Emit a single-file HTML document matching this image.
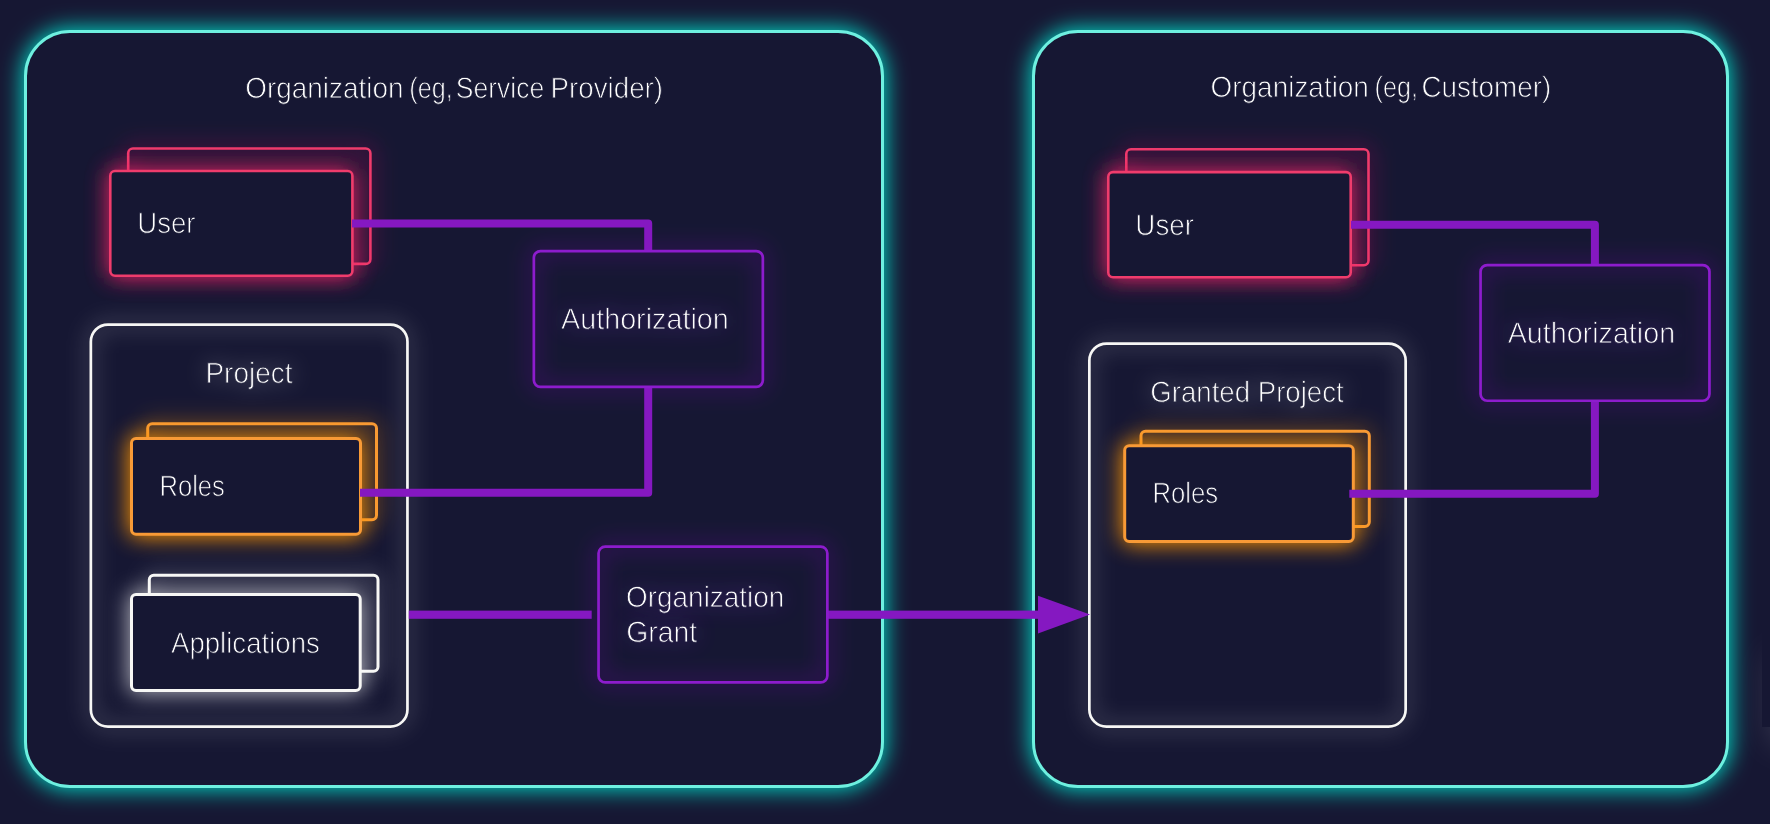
<!DOCTYPE html>
<html lang="en"><head><meta charset="utf-8"><title>Organization grant diagram</title>
<style>
html,body{margin:0;padding:0;background:#161733;}
body{width:1770px;height:824px;overflow:hidden;}
svg{display:block;position:absolute;left:0;top:0;}
text{font-family:"Liberation Sans",sans-serif;font-size:29.5px;text-rendering:geometricPrecision;}
</style></head><body>
<svg width="1770" height="824" viewBox="0 0 1770 824">
<defs>
<filter id="g" x="0" y="0" width="1770" height="824" filterUnits="userSpaceOnUse"><feGaussianBlur stdDeviation="11"/></filter>
<filter id="g2" x="0" y="0" width="1770" height="824" filterUnits="userSpaceOnUse"><feGaussianBlur stdDeviation="17"/></filter>
<filter id="tb" x="0" y="0" width="1770" height="824" filterUnits="userSpaceOnUse"><feGaussianBlur stdDeviation="11"/></filter>
<linearGradient id="edge" x1="0" x2="1" y1="0" y2="0"><stop offset="0" stop-color="#ffffff" stop-opacity="0"/><stop offset="1" stop-color="#c8b8ff" stop-opacity="0.045"/></linearGradient>
<mask id="mt0a" maskUnits="userSpaceOnUse" x="0" y="0" width="1770" height="824"><text x="245.30" y="97.75" textLength="158.21" lengthAdjust="spacingAndGlyphs" fill="#fff" stroke="#000" stroke-width="0.9">Organization</text></mask>
<mask id="mt0b" maskUnits="userSpaceOnUse" x="0" y="0" width="1770" height="824"><text x="409.35" y="97.75" textLength="43.39" lengthAdjust="spacingAndGlyphs" fill="#fff" stroke="#000" stroke-width="0.9">(eg,</text></mask>
<mask id="mt0c" maskUnits="userSpaceOnUse" x="0" y="0" width="1770" height="824"><text x="455.82" y="97.75" textLength="88.38" lengthAdjust="spacingAndGlyphs" fill="#fff" stroke="#000" stroke-width="0.9">Service</text></mask>
<mask id="mt0d" maskUnits="userSpaceOnUse" x="0" y="0" width="1770" height="824"><text x="550.61" y="97.75" textLength="112.46" lengthAdjust="spacingAndGlyphs" fill="#fff" stroke="#000" stroke-width="0.9">Provider)</text></mask>
<mask id="mt1a" maskUnits="userSpaceOnUse" x="0" y="0" width="1770" height="824"><text x="1210.59" y="96.65" textLength="158.32" lengthAdjust="spacingAndGlyphs" fill="#fff" stroke="#000" stroke-width="0.9">Organization</text></mask>
<mask id="mt1b" maskUnits="userSpaceOnUse" x="0" y="0" width="1770" height="824"><text x="1374.55" y="96.65" textLength="43.36" lengthAdjust="spacingAndGlyphs" fill="#fff" stroke="#000" stroke-width="0.9">(eg,</text></mask>
<mask id="mt1c" maskUnits="userSpaceOnUse" x="0" y="0" width="1770" height="824"><text x="1421.38" y="96.65" textLength="129.88" lengthAdjust="spacingAndGlyphs" fill="#fff" stroke="#000" stroke-width="0.9">Customer)</text></mask>
<mask id="mt2" maskUnits="userSpaceOnUse" x="0" y="0" width="1770" height="824"><text x="137.37" y="232.85" textLength="58.19" lengthAdjust="spacingAndGlyphs" fill="#fff" stroke="#000" stroke-width="0.9">User</text></mask>
<mask id="mt3" maskUnits="userSpaceOnUse" x="0" y="0" width="1770" height="824"><text x="1135.36" y="234.55" textLength="58.56" lengthAdjust="spacingAndGlyphs" fill="#fff" stroke="#000" stroke-width="0.9">User</text></mask>
<mask id="mt4" maskUnits="userSpaceOnUse" x="0" y="0" width="1770" height="824"><text x="561.05" y="328.85" textLength="167.70" lengthAdjust="spacingAndGlyphs" fill="#fff" stroke="#000" stroke-width="0.9">Authorization</text></mask>
<mask id="mt5" maskUnits="userSpaceOnUse" x="0" y="0" width="1770" height="824"><text x="1507.65" y="342.85" textLength="167.48" lengthAdjust="spacingAndGlyphs" fill="#fff" stroke="#000" stroke-width="0.9">Authorization</text></mask>
<mask id="mt6" maskUnits="userSpaceOnUse" x="0" y="0" width="1770" height="824"><text x="205.48" y="382.95" textLength="86.96" lengthAdjust="spacingAndGlyphs" fill="#fff" stroke="#000" stroke-width="0.9">Project</text></mask>
<mask id="mt7" maskUnits="userSpaceOnUse" x="0" y="0" width="1770" height="824"><text x="1150.27" y="401.75" textLength="193.44" lengthAdjust="spacingAndGlyphs" fill="#fff" stroke="#000" stroke-width="0.9">Granted Project</text></mask>
<mask id="mt8" maskUnits="userSpaceOnUse" x="0" y="0" width="1770" height="824"><text x="159.44" y="495.65" textLength="65.44" lengthAdjust="spacingAndGlyphs" fill="#fff" stroke="#000" stroke-width="0.9">Roles</text></mask>
<mask id="mt9" maskUnits="userSpaceOnUse" x="0" y="0" width="1770" height="824"><text x="1152.40" y="502.65" textLength="65.81" lengthAdjust="spacingAndGlyphs" fill="#fff" stroke="#000" stroke-width="0.9">Roles</text></mask>
<mask id="mt10" maskUnits="userSpaceOnUse" x="0" y="0" width="1770" height="824"><text x="170.97" y="652.75" textLength="148.83" lengthAdjust="spacingAndGlyphs" fill="#fff" stroke="#000" stroke-width="0.9">Applications</text></mask>
<mask id="mt11" maskUnits="userSpaceOnUse" x="0" y="0" width="1770" height="824"><text x="626.03" y="606.75" textLength="158.36" lengthAdjust="spacingAndGlyphs" fill="#fff" stroke="#000" stroke-width="0.9">Organization</text></mask>
<mask id="mt12" maskUnits="userSpaceOnUse" x="0" y="0" width="1770" height="824"><text x="626.20" y="641.65" textLength="71.01" lengthAdjust="spacingAndGlyphs" fill="#fff" stroke="#000" stroke-width="0.9">Grant</text></mask>
</defs>
<rect width="1770" height="824" fill="#161733"/>
<rect x="1772" y="655" width="80" height="88" fill="#ffffff" opacity="0.17" filter="url(#g2)"/>
<rect x="1762" y="560" width="10" height="167" fill="#161733"/>
<rect x="22.50" y="28.50" width="863.00" height="761.00" rx="47.50" fill="#00dcc8" opacity="1.0" filter="url(#g)"/>
<rect x="25.50" y="31.50" width="857.00" height="755.00" rx="44.50" fill="#161733" stroke="#6ef0e0" stroke-width="3" />
<rect x="1030.50" y="28.50" width="700.00" height="761.00" rx="47.50" fill="#00dcc8" opacity="1.0" filter="url(#g)"/>
<rect x="1033.50" y="31.50" width="694.00" height="755.00" rx="44.50" fill="#161733" stroke="#6ef0e0" stroke-width="3" />
<rect x="90.85" y="324.55" width="316.60" height="402.10" rx="17.15" fill="none" stroke="#ffffff" stroke-width="2.7" opacity="0.66" filter="url(#g)"/>
<rect x="90.85" y="324.55" width="316.60" height="402.10" rx="17.15" fill="none" stroke="#f7f7f5" stroke-width="2.7" />
<rect x="1089.35" y="343.55" width="316.30" height="383.10" rx="17.15" fill="none" stroke="#ffffff" stroke-width="2.7" opacity="0.66" filter="url(#g)"/>
<rect x="1089.35" y="343.55" width="316.30" height="383.10" rx="17.15" fill="none" stroke="#f7f7f5" stroke-width="2.7" />
<rect x="533.85" y="251.05" width="229.00" height="135.90" rx="6.65" fill="none" stroke="#8d1ccd" stroke-width="2.7" opacity="1.0" filter="url(#g)"/>
<rect x="1480.55" y="265.05" width="228.90" height="135.70" rx="6.65" fill="none" stroke="#8d1ccd" stroke-width="2.7" opacity="1.0" filter="url(#g)"/>
<rect x="598.55" y="546.65" width="228.80" height="135.80" rx="6.65" fill="none" stroke="#8d1ccd" stroke-width="2.7" opacity="1.0" filter="url(#g)"/>
<rect x="128.20" y="148.50" width="242.20" height="115.40" rx="4.70" fill="none" stroke="#f02268" stroke-width="2.6" opacity="1.0" filter="url(#g)"/>
<rect x="128.20" y="148.50" width="242.20" height="115.40" rx="4.70" fill="none" stroke="#ef3c6c" stroke-width="2.6" />
<rect x="107.50" y="168.20" width="247.70" height="110.40" rx="7.50" fill="#f02268" opacity="0.9" filter="url(#g)"/>
<rect x="110.30" y="171.00" width="242.10" height="104.80" rx="4.70" fill="#161733" stroke="#ef3c6c" stroke-width="2.6" />
<rect x="1126.30" y="149.30" width="242.20" height="116.00" rx="4.70" fill="none" stroke="#f02268" stroke-width="2.6" opacity="1.0" filter="url(#g)"/>
<rect x="1126.30" y="149.30" width="242.20" height="116.00" rx="4.70" fill="none" stroke="#ef3c6c" stroke-width="2.6" />
<rect x="1105.50" y="169.30" width="248.00" height="110.80" rx="7.50" fill="#f02268" opacity="0.9" filter="url(#g)"/>
<rect x="1108.30" y="172.10" width="242.40" height="105.20" rx="4.70" fill="#161733" stroke="#ef3c6c" stroke-width="2.6" />
<rect x="147.70" y="423.70" width="228.80" height="96.00" rx="4.50" fill="none" stroke="#ff9600" stroke-width="3.0" opacity="1.0" filter="url(#g)"/>
<rect x="147.70" y="423.70" width="228.80" height="96.00" rx="4.50" fill="none" stroke="#f89a36" stroke-width="3.0" />
<rect x="128.50" y="435.50" width="235.00" height="101.80" rx="7.50" fill="#ff9600" opacity="0.94" filter="url(#g)"/>
<rect x="131.50" y="438.50" width="229.00" height="95.80" rx="4.50" fill="#161733" stroke="#f89a36" stroke-width="3.0" />
<rect x="1141.00" y="431.30" width="228.30" height="95.20" rx="4.50" fill="none" stroke="#ff9600" stroke-width="3.0" opacity="1.0" filter="url(#g)"/>
<rect x="1141.00" y="431.30" width="228.30" height="95.20" rx="4.50" fill="none" stroke="#f89a36" stroke-width="3.0" />
<rect x="1121.70" y="442.70" width="234.60" height="101.70" rx="7.50" fill="#ff9600" opacity="0.94" filter="url(#g)"/>
<rect x="1124.70" y="445.70" width="228.60" height="95.70" rx="4.50" fill="#161733" stroke="#f89a36" stroke-width="3.0" />
<rect x="149.30" y="575.30" width="228.70" height="96.00" rx="4.50" fill="none" stroke="#ffffff" stroke-width="3.0" opacity="0.66" filter="url(#g)"/>
<rect x="149.30" y="575.30" width="228.70" height="96.00" rx="4.50" fill="none" stroke="#f7f7f5" stroke-width="3.0" />
<rect x="128.50" y="591.50" width="234.70" height="102.00" rx="7.50" fill="#ffffff" opacity="0.66" filter="url(#g)"/>
<rect x="131.50" y="594.50" width="228.70" height="96.00" rx="4.50" fill="#161733" stroke="#f7f7f5" stroke-width="3.0" />
<path d="M352,223.5 H648.2 V252" fill="none" stroke="#8518c1" stroke-width="8" stroke-linejoin="round"/>
<path d="M648.2,386.5 V492.85 H360" fill="none" stroke="#8518c1" stroke-width="8" stroke-linejoin="round"/>
<path d="M1351,224.8 H1594.9 V266" fill="none" stroke="#8518c1" stroke-width="8" stroke-linejoin="round"/>
<path d="M1594.9,400.5 V493.85 H1349.3" fill="none" stroke="#8518c1" stroke-width="8" stroke-linejoin="round"/>
<rect x="408.8" y="610.6" width="182.9" height="8.2" fill="#8518c1"/>
<rect x="827.5" y="610.6" width="212" height="8.2" fill="#8518c1"/>
<path d="M1038,595.8 L1090,614.6 L1038,633.5 Z" fill="#8518c1"/>
<rect x="533.85" y="251.05" width="229.00" height="135.90" rx="6.65" fill="none" stroke="#8d1ccd" stroke-width="2.7" />
<rect x="1480.55" y="265.05" width="228.90" height="135.70" rx="6.65" fill="none" stroke="#8d1ccd" stroke-width="2.7" />
<rect x="598.55" y="546.65" width="228.80" height="135.80" rx="6.65" fill="none" stroke="#8d1ccd" stroke-width="2.7" />
<rect x="226.7" y="63.9" width="194.7" height="48" fill="#ffffff" mask="url(#mt0a)"/>
<rect x="391.0" y="63.9" width="79.2" height="48" fill="#ffffff" mask="url(#mt0b)"/>
<rect x="437.5" y="63.9" width="125.3" height="48" fill="#ffffff" mask="url(#mt0c)"/>
<rect x="533.0" y="63.9" width="148.1" height="48" fill="#ffffff" mask="url(#mt0d)"/>
<rect x="1192.0" y="62.8" width="194.9" height="48" fill="#ffffff" mask="url(#mt1a)"/>
<rect x="1356.3" y="62.8" width="79.1" height="48" fill="#ffffff" mask="url(#mt1b)"/>
<rect x="1403.1" y="62.8" width="166.1" height="48" fill="#ffffff" mask="url(#mt1c)"/>
<rect x="119.7" y="199.0" width="95.2" height="48" fill="#ffffff" mask="url(#mt2)"/>
<rect x="1117.7" y="200.7" width="95.5" height="48" fill="#ffffff" mask="url(#mt3)"/>
<text x="561.05" y="328.85" textLength="167.70" lengthAdjust="spacingAndGlyphs" fill="#8a2be2" opacity="0.42" filter="url(#tb)">Authorization</text>
<rect x="541.7" y="295.0" width="204.7" height="48" fill="#ffffff" mask="url(#mt4)"/>
<text x="1507.65" y="342.85" textLength="167.48" lengthAdjust="spacingAndGlyphs" fill="#8a2be2" opacity="0.42" filter="url(#tb)">Authorization</text>
<rect x="1488.4" y="309.0" width="204.7" height="48" fill="#ffffff" mask="url(#mt5)"/>
<text x="205.48" y="382.95" textLength="86.96" lengthAdjust="spacingAndGlyphs" fill="#ffffff" opacity="0.36" filter="url(#tb)">Project</text>
<rect x="188.0" y="349.1" width="123.8" height="48" fill="#ffffff" mask="url(#mt6)"/>
<text x="1150.27" y="401.75" textLength="193.44" lengthAdjust="spacingAndGlyphs" fill="#ffffff" opacity="0.36" filter="url(#tb)">Granted Project</text>
<rect x="1131.8" y="367.9" width="231.2" height="48" fill="#ffffff" mask="url(#mt7)"/>
<rect x="141.7" y="461.8" width="101.9" height="48" fill="#ffffff" mask="url(#mt8)"/>
<rect x="1134.7" y="468.8" width="102.2" height="48" fill="#ffffff" mask="url(#mt9)"/>
<rect x="151.7" y="618.9" width="186.7" height="48" fill="#ffffff" mask="url(#mt10)"/>
<text x="626.03" y="606.75" textLength="158.36" lengthAdjust="spacingAndGlyphs" fill="#8a2be2" opacity="0.42" filter="url(#tb)">Organization</text>
<rect x="607.6" y="572.9" width="194.8" height="48" fill="#ffffff" mask="url(#mt11)"/>
<text x="626.20" y="641.65" textLength="71.01" lengthAdjust="spacingAndGlyphs" fill="#8a2be2" opacity="0.42" filter="url(#tb)">Grant</text>
<rect x="607.8" y="607.8" width="108.4" height="48" fill="#ffffff" mask="url(#mt12)"/>
</svg>
</body></html>
